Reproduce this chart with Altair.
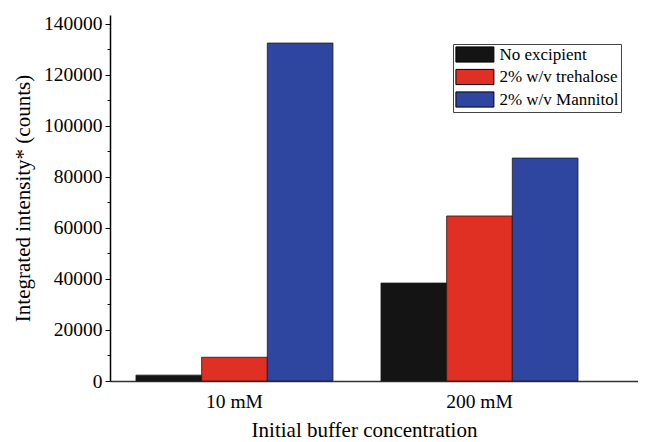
import altair as alt
import pandas as pd

concentrations = ["10 mM", "200 mM"]
series = ["No excipient", "2% w/v trehalose", "2% w/v Mannitol"]
no_excipient = [2300, 38400]
trehalose = [9300, 64700]
mannitol = [132500, 87400]
colors = ["#141414", "#e03024", "#2f46a0"]
y_ticks = list(range(0, 140001, 10000))

rows = []
for s, vals in zip(series, [no_excipient, trehalose, mannitol]):
    for c, v in zip(concentrations, vals):
        rows.append({"conc": c, "series": s, "value": v})
df = pd.DataFrame(rows)

font = "Liberation Serif"

chart = alt.Chart(df).mark_bar(stroke="#1a1a1a", strokeWidth=0.8).encode(
    x=alt.X(
        "conc:N",
        sort=concentrations,
        scale=alt.Scale(paddingInner=0.196, paddingOuter=0.1755, align=0.302),
        axis=alt.Axis(
            title="Initial buffer concentration",
            labelAngle=0,
            ticks=False,
            labelFont=font,
            labelFontSize=19.5,
            labelColor="black",
            labelPadding=11,
            titleFont=font,
            titleFontSize=21,
            titleFontWeight="normal",
            titleColor="black",
            titleX=254,
            titlePadding=9,
            domainColor="#333",
            domainWidth=1.5,
        ),
    ),
    xOffset=alt.XOffset("series:N", sort=series, scale=alt.Scale(paddingInner=0, paddingOuter=0)),
    y=alt.Y(
        "value:Q",
        scale=alt.Scale(domain=[0, 143500], nice=False),
        axis=alt.Axis(
            title="Integrated intensity* (counts)",
            values=y_ticks,
            format="d",
            labelExpr="datum.value % 20000 === 0 ? datum.label : ''",
            tickSize={"condition": {"test": "datum.value % 20000 === 0", "value": 5}, "value": 3},
            grid=False,
            labelFont=font,
            labelFontSize=19.5,
            labelColor="black",
            labelPadding=3,
            titleFont=font,
            titleFontSize=21,
            titleFontWeight="normal",
            titleColor="black",
            titlePadding=10,
            domainColor="black",
            domainWidth=1.5,
            tickColor="black",
            labelOverlap=False,
        ),
    ),
    color=alt.Color(
        "series:N",
        sort=series,
        scale=alt.Scale(domain=series, range=colors),
        legend=alt.Legend(
            title=None,
            orient="none",
            legendX=343,
            legendY=29,
            symbolType="M-2.5,-1L2.5,-1L2.5,1L-2.5,1Z",
            symbolSize=231,
            symbolStrokeColor="black",
            symbolStrokeWidth=1,
            symbolOffset=11.4,
            symbolOpacity=1,
            labelOffset=16,
            labelFont=font,
            labelFontSize=17,
            labelColor="black",
            rowPadding=1.5,
            padding=2,
            strokeColor="#444",
            fillColor="white",
        ),
    ),
).properties(
    width=528,
    height=366,
    autosize=alt.AutoSizeParams(type="none"),
    padding={"left": 102, "top": 7, "right": 0, "bottom": 61},
).configure_view(stroke=None)

chart.save("out.html", embed_options={"renderer": "svg", "actions": False})
